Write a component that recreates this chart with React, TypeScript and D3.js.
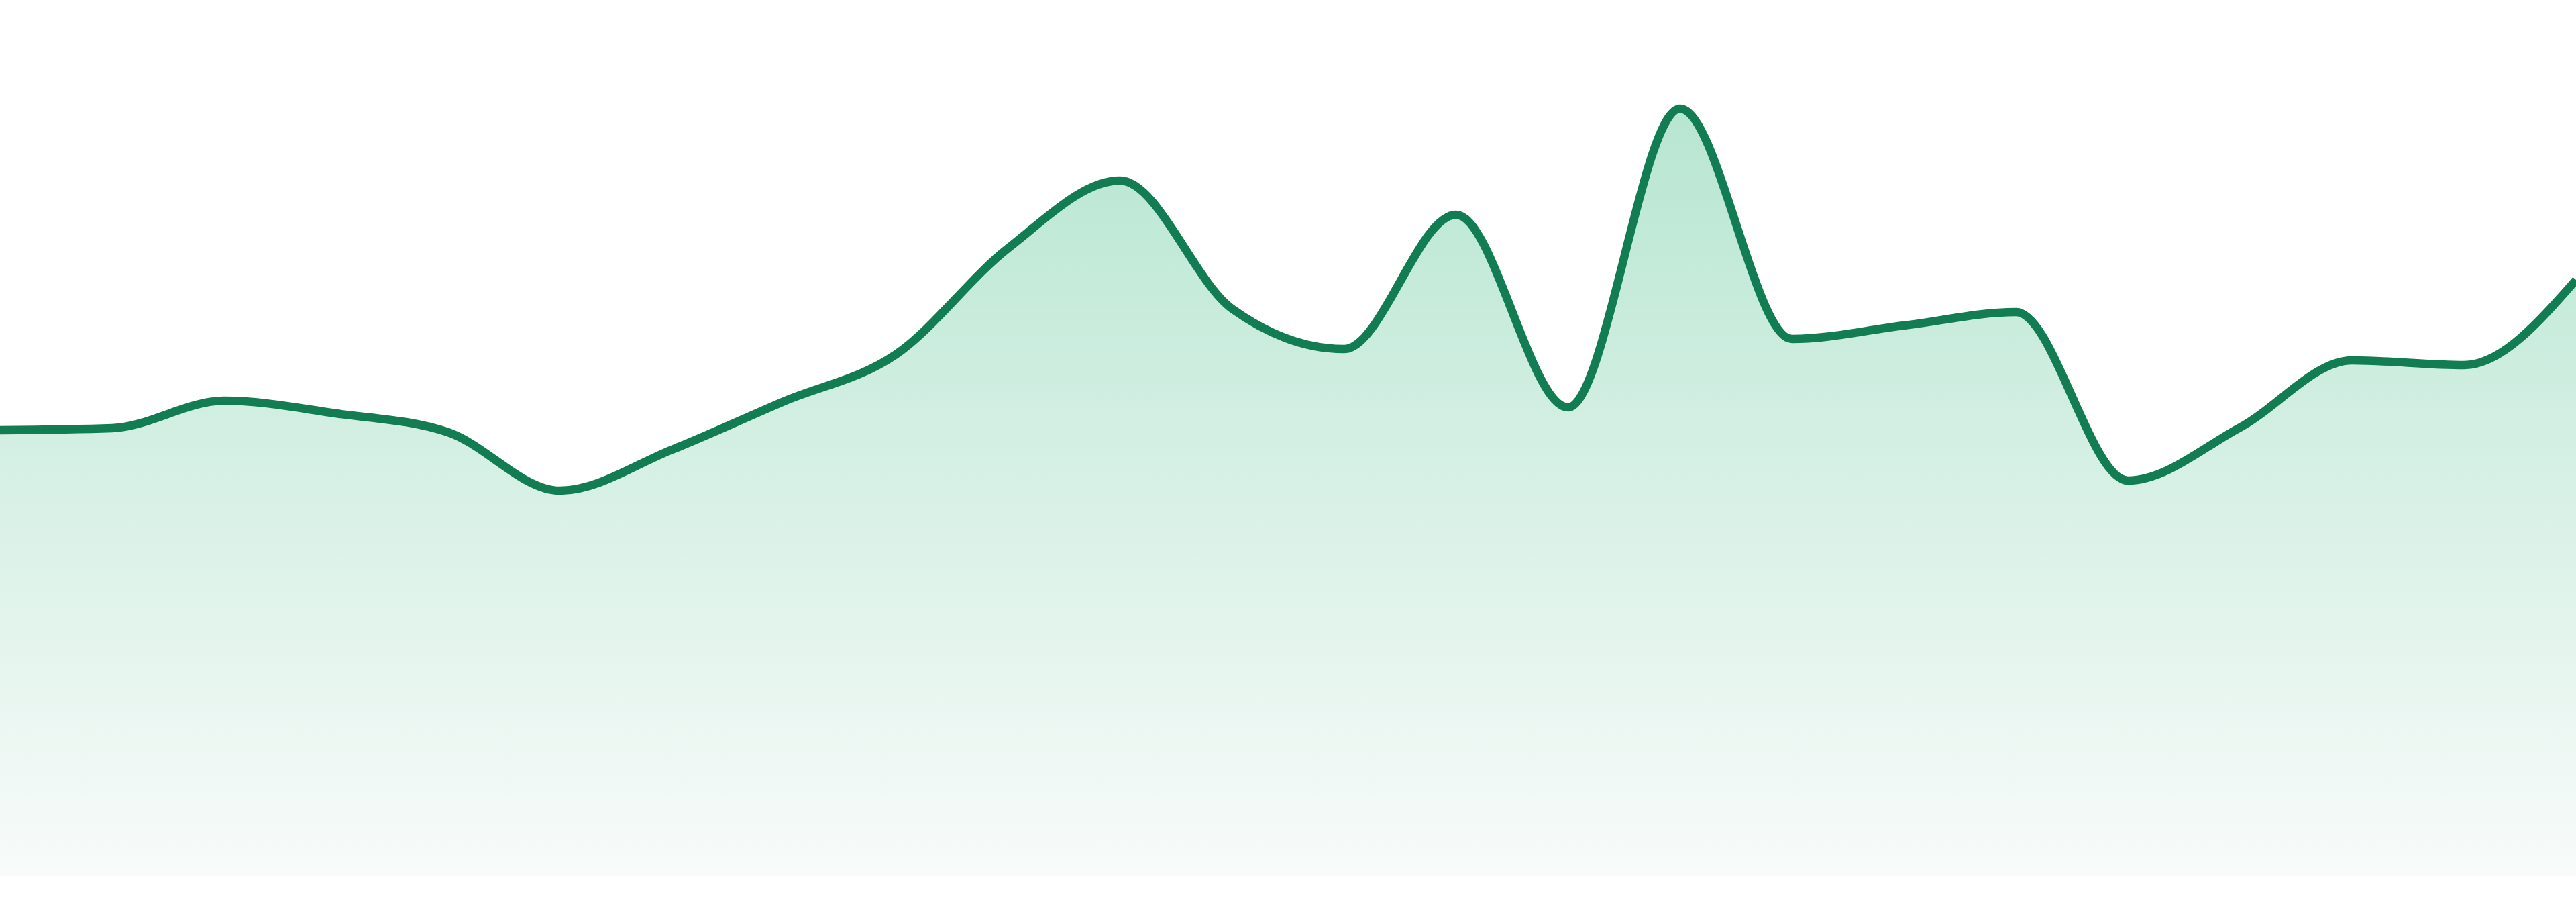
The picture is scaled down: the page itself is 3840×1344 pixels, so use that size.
import React from 'react';
import * as d3 from 'd3';

// one reading per step along the x axis (no labels shown in the chart)
const steps = d3.range(24);
const values = [
    66.4, 66.7, 70.8, 68.9, 66.1, 57.4, 63.5, 70.7, 77.7, 93.5, 103.6, 84.5,
    78.5, 98.5, 69.8, 114.3, 80.0, 82.0, 84.0, 58.9, 66.8, 76.8, 76.1, 88.8,
];

const WIDTH = 3840;
const HEIGHT = 1344;
const baseline = 1305;

export default function App() {
    const x = d3.scaleLinear().domain([0, steps.length - 1]).range([0, WIDTH]);
    const y = d3.scaleLinear().domain([0, 120]).range([baseline, 105]);

    const data = steps.map((s, i) => ({ s, v: values[i] }));

    const area = d3.area<{ s: number; v: number }>()
        .x(d => x(d.s))
        .y0(y(0))
        .y1(d => y(d.v))
        .curve(d3.curveMonotoneX);

    const line = d3.line<{ s: number; v: number }>()
        .x(d => x(d.s))
        .y(d => y(d.v))
        .curve(d3.curveMonotoneX);

    const top = y(d3.max(values)!);

    return (
        <svg
            width={WIDTH}
            height={HEIGHT}
            style={{ position: 'absolute', left: 0, top: 0, display: 'block', background: '#fff' }}
        >
            <defs>
                <linearGradient id="fillFade" gradientUnits="userSpaceOnUse" x1="0" y1={top} x2="0" y2={y(0)}>
                    <stop offset="0%" stopColor="#b7e6d1" />
                    <stop offset="100%" stopColor="#f8fbfa" />
                </linearGradient>
            </defs>
            <path d={area(data)!} fill="url(#fillFade)" />
            <path d={line(data)!} fill="none" stroke="#127c52" strokeWidth={12.5} strokeLinejoin="round" />
        </svg>
    );
}
